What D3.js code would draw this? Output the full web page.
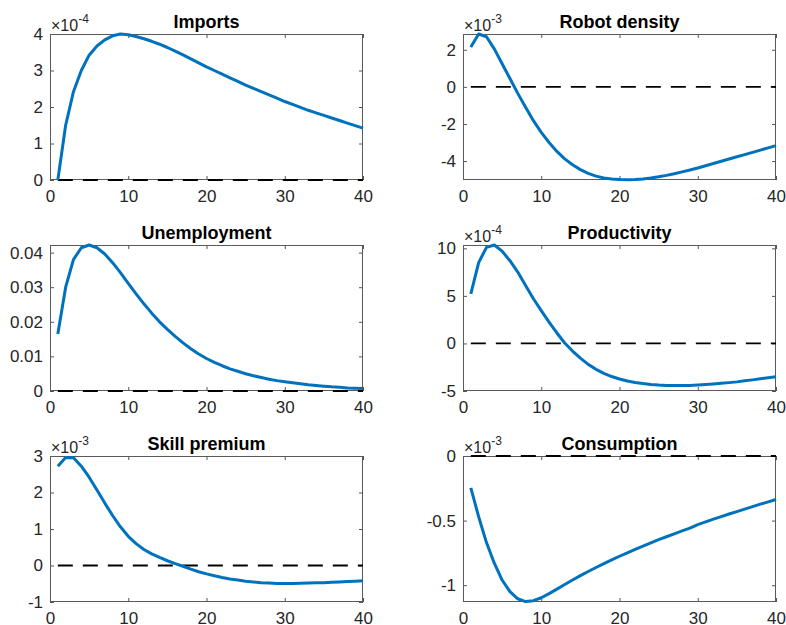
<!DOCTYPE html>
<html>
<head>
<meta charset="utf-8">
<script src="https://cdn.jsdelivr.net/npm/d3@7"></script>
<style>
  body { margin: 0; background: #fff; }
  svg text { font-family: "Liberation Sans", Arial, Helvetica, sans-serif; }
</style>
</head>
<body>
<svg id="chart" width="786" height="625"></svg>
<script>
// Impulse responses over 40 periods, one small array per panel
const periods = d3.range(1, 41);

const titles = ["Imports", "Robot density", "Unemployment", "Productivity", "Skill premium", "Consumption"];

// Values are in the units shown on each axis (see the exponent list below)
const imports = [0.00, 1.50, 2.42, 3.00, 3.42, 3.67, 3.84, 3.95, 4.00, 3.98,
  3.93, 3.87, 3.80, 3.72, 3.63, 3.53, 3.43, 3.32, 3.21, 3.10,
  3.00, 2.90, 2.80, 2.70, 2.60, 2.51, 2.42, 2.33, 2.24, 2.15,
  2.07, 1.99, 1.91, 1.84, 1.77, 1.70, 1.63, 1.56, 1.49, 1.42];

const robotDensity = [2.15, 2.85, 2.70, 2.05, 1.25, 0.45, -0.35, -1.10, -1.82, -2.45,
  -3.00, -3.48, -3.88, -4.20, -4.46, -4.66, -4.81, -4.91, -4.96, -4.99,
  -5.00, -4.99, -4.96, -4.91, -4.85, -4.77, -4.68, -4.58, -4.48, -4.37,
  -4.25, -4.13, -4.01, -3.89, -3.77, -3.65, -3.53, -3.41, -3.29, -3.17];

const unemployment = [0.0165, 0.0300, 0.0380, 0.0414, 0.0422, 0.0414, 0.0396, 0.0371, 0.0342, 0.0311,
  0.0281, 0.0252, 0.0225, 0.0200, 0.0178, 0.0158, 0.0139, 0.0122, 0.0107, 0.0094,
  0.0083, 0.0073, 0.0064, 0.0057, 0.0050, 0.0044, 0.0039, 0.0034, 0.0030, 0.0027,
  0.0024, 0.0021, 0.0018, 0.0016, 0.0014, 0.0012, 0.0011, 0.0009, 0.0008, 0.0007];

const productivity = [5.2, 8.5, 10.1, 10.35, 9.7, 8.7, 7.5, 6.1, 4.7, 3.45,
  2.25, 1.1, 0.05, -0.8, -1.55, -2.2, -2.72, -3.15, -3.48, -3.74,
  -3.94, -4.10, -4.22, -4.31, -4.37, -4.41, -4.43, -4.43, -4.41, -4.37,
  -4.32, -4.26, -4.19, -4.12, -4.04, -3.93, -3.83, -3.72, -3.61, -3.50];

const skillPremium = [2.72, 2.96, 2.95, 2.72, 2.42, 2.07, 1.71, 1.37, 1.06, 0.80,
  0.60, 0.44, 0.32, 0.22, 0.13, 0.05, -0.02, -0.10, -0.17, -0.23,
  -0.28, -0.33, -0.37, -0.40, -0.43, -0.45, -0.47, -0.48, -0.49, -0.49,
  -0.49, -0.485, -0.48, -0.475, -0.47, -0.46, -0.45, -0.44, -0.43, -0.42];

const consumption = [-0.246, -0.47, -0.67, -0.83, -0.96, -1.05, -1.105, -1.127, -1.12, -1.097,
  -1.065, -1.03, -0.995, -0.96, -0.926, -0.894, -0.863, -0.833, -0.804, -0.776,
  -0.749, -0.722, -0.697, -0.672, -0.648, -0.625, -0.602, -0.58, -0.558, -0.531,
  -0.51, -0.489, -0.469, -0.449, -0.43, -0.411, -0.392, -0.373, -0.355, -0.337];

const series = [imports, robotDensity, unemployment, productivity, skillPremium, consumption];

// Axis scale exponents (null = no multiplier shown)
const exponents = [-4, -3, null, -4, -3, -3];

// Axis limits and ticks
const yLimits = [[0, 4], [-5.02, 2.85], [0, 0.0422], [-5, 10.35], [-1, 3], [-1.13, 0]];
const yTicks = [[0, 1, 2, 3, 4], [-4, -2, 0, 2], [0, 0.01, 0.02, 0.03, 0.04], [-5, 0, 5, 10], [-1, 0, 1, 2, 3], [-1, -0.5, 0]];
const xLimits = [0, 40];
const xTicks = [0, 10, 20, 30, 40];

// Panel grid
const colLeft = [50, 463];
const rowTop = [34, 245, 456];
const panelW = 313;
const panelH = 146;

const svg = d3.select("#chart");
const fmt = v => (Math.abs(v) < 1e-12 ? "0" : String(+v.toFixed(4)));
const axisColor = "#262626";

series.forEach((vals, i) => {
  const col = i % 2, row = Math.floor(i / 2);
  const g = svg.append("g").attr("transform", `translate(${colLeft[col]},${rowTop[row]})`);

  const x = d3.scaleLinear().domain(xLimits).range([0, panelW]);
  const y = d3.scaleLinear().domain(yLimits[i]).range([panelH, 0]);

  const styleAxis = sel => {
    sel.select(".domain").remove();
    sel.selectAll("line").attr("stroke", "#555").attr("stroke-width", 1);
    sel.selectAll("text").attr("fill", axisColor).style("font-size", "17px");
  };

  // Bottom and left axes with labels, ticks pointing inward
  g.append("g").attr("transform", `translate(0,${panelH})`)
    .call(d3.axisBottom(x).tickValues(xTicks).tickSizeInner(-4).tickSizeOuter(0).tickPadding(10).tickFormat(fmt))
    .call(styleAxis);
  g.append("g")
    .call(d3.axisLeft(y).tickValues(yTicks[i]).tickSizeInner(-4).tickSizeOuter(0).tickPadding(7).tickFormat(fmt))
    .call(styleAxis);
  // Top and right ticks without labels
  g.append("g")
    .call(d3.axisTop(x).tickValues(xTicks).tickSizeInner(-4).tickSizeOuter(0).tickFormat(""))
    .call(styleAxis);
  g.append("g").attr("transform", `translate(${panelW},0)`)
    .call(d3.axisRight(y).tickValues(yTicks[i]).tickSizeInner(-4).tickSizeOuter(0).tickFormat(""))
    .call(styleAxis);

  // Box
  g.append("rect")
    .attr("x", 0.5).attr("y", 0.5)
    .attr("width", panelW - 1).attr("height", panelH - 1)
    .attr("fill", "none").attr("stroke", "#5a5a5a").attr("stroke-width", 1);

  // Zero reference line
  g.append("path")
    .datum(periods)
    .attr("fill", "none")
    .attr("stroke", "#000")
    .attr("stroke-width", 1.8)
    .attr("stroke-dasharray", "15,10")
    .attr("d", d3.line().x(t => x(t)).y(() => y(0)));

  // Response path
  g.append("path")
    .datum(vals)
    .attr("fill", "none")
    .attr("stroke", "#0072BD")
    .attr("stroke-width", 3)
    .attr("stroke-linejoin", "round")
    .attr("d", d3.line().x((v, k) => x(periods[k])).y(v => y(v)));

  // Title
  g.append("text")
    .attr("x", panelW / 2).attr("y", -6.5)
    .attr("text-anchor", "middle")
    .attr("fill", "#000")
    .style("font-size", "18px").style("font-weight", "bold")
    .text(titles[i]);

  // Exponent multiplier
  if (exponents[i] !== null) {
    const ex = g.append("text")
      .attr("x", 1).attr("y", -3)
      .attr("fill", axisColor)
      .style("font-size", "16px");
    ex.append("tspan").text("×10");
    ex.append("tspan").attr("dy", -8).style("font-size", "12px").text(String(exponents[i]));
  }
});
</script>
</body>
</html>
